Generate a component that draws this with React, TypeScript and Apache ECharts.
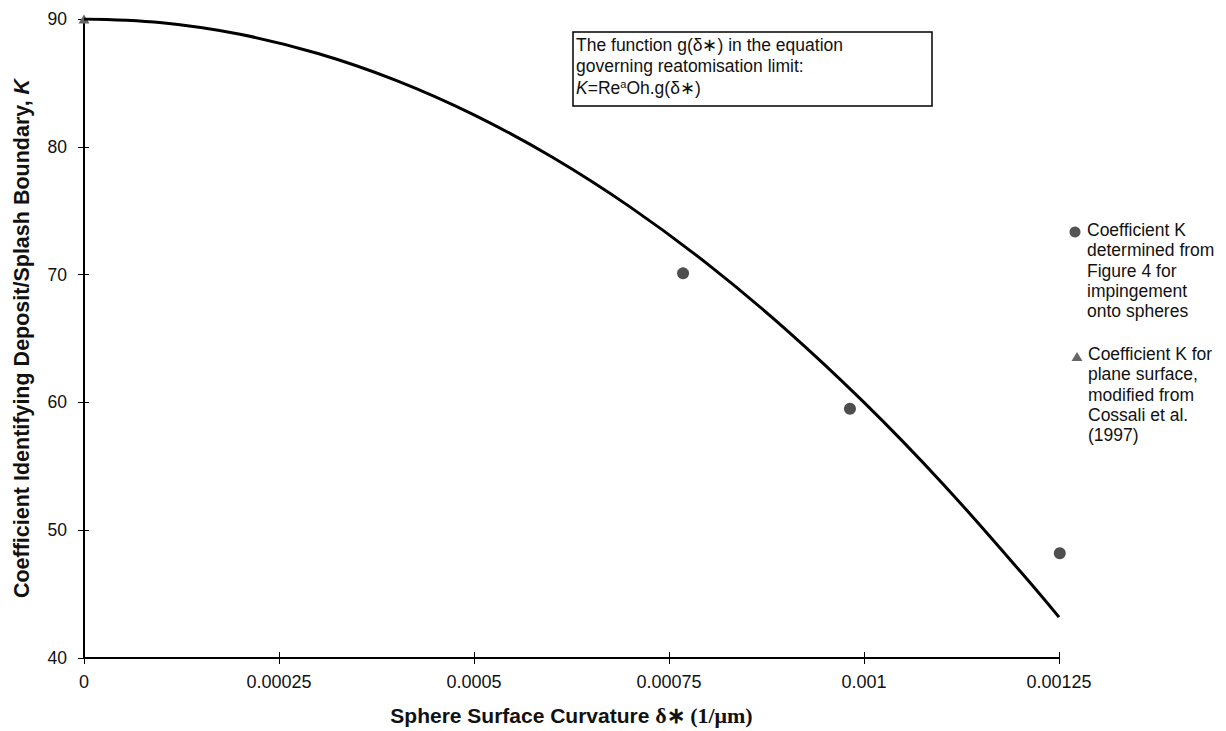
import React, { useEffect, useRef } from "react";
import * as echarts from "echarts";

// Fitted curve g(δ*): [curvature (1/µm), K]
const curveX = [0, 0.0001, 0.0002, 0.0003, 0.0004, 0.0005, 0.0006, 0.0007, 0.0008, 0.0009, 0.001, 0.0011, 0.0012, 0.00125];
const curveK = [90, 89.7, 88.8, 87.3, 85.2, 82.5, 79.2, 75.3, 70.8, 65.7, 60.0, 53.7, 46.8, 43.2];

// Coefficient K determined from Figure 4 for impingement onto spheres
const sphereCurvature = [0.000768, 0.000982, 0.001251];
const sphereK = [70.1, 59.5, 48.2];

// Coefficient K for plane surface (Cossali et al. 1997)
const planeCurvature = [0];
const planeK = [90];

const xTicks = ["0", "0.00025", "0.0005", "0.00075", "0.001", "0.00125"];
const yTicks = ["40", "50", "60", "70", "80", "90"];

const boxLines = [
  "The function g(δ∗) in the equation",
  "governing reatomisation limit:",
];
const legendSphere = ["Coefficient K", "determined from", "Figure 4 for", "impingement", "onto spheres"];
const legendPlane = ["Coefficient K for", "plane surface,", "modified from", "Cossali et al.", "(1997)"];

const FONT = "'Liberation Sans', Arial, sans-serif";
const SERIF = "'Liberation Serif', 'Times New Roman', serif";

export default function App() {
  const ref = useRef<HTMLDivElement>(null);

  useEffect(() => {
    if (!ref.current) return;
    const chart = echarts.init(ref.current, null, { renderer: "svg" });

    const fmtX = (v: number) => {
      const i = Math.round(v / 0.00025);
      return xTicks[i] ?? String(v);
    };
    const fmtY = (v: number) => {
      const i = Math.round((v - 40) / 10);
      return yTicks[i] ?? String(v);
    };

    const option: any = {
      animation: false,
      backgroundColor: "#ffffff",
      textStyle: { fontFamily: FONT },
      grid: { left: 84, right: 167, top: 19, bottom: 71, containLabel: false },
      xAxis: [
        {
          type: "value",
          min: 0,
          max: 0.00125,
          interval: 0.00025,
          axisLine: { show: true, lineStyle: { color: "#000", width: 2 } },
          axisTick: { show: true, length: 6, lineStyle: { color: "#000", width: 1 } },
          splitLine: { show: false },
          axisLabel: { formatter: fmtX, color: "#111", fontSize: 18, margin: 15, fontFamily: FONT },
          name: "{b|Sphere Surface Curvature }{s|δ∗ (1/μm)}",
          nameLocation: "middle",
          nameGap: 46,
          nameTextStyle: {
            rich: {
              b: { fontFamily: FONT, fontWeight: "bold", fontSize: 21, color: "#111" },
              s: { fontFamily: SERIF, fontWeight: "bold", fontSize: 22, color: "#111" },
            },
          },
        },
        {
          type: "value",
          min: 0,
          max: 0.00125,
          interval: 0.00025,
          position: "bottom",
          offset: 0,
          axisLine: { show: false },
          axisTick: { show: true, inside: true, length: 6, lineStyle: { color: "#000", width: 1 } },
          axisLabel: { show: false },
          splitLine: { show: false },
        },
      ],
      yAxis: [
        {
          type: "value",
          min: 40,
          max: 90,
          interval: 10,
          axisLine: { show: true, lineStyle: { color: "#000", width: 2 } },
          axisTick: { show: true, length: 6, lineStyle: { color: "#000", width: 1 } },
          splitLine: { show: false },
          axisLabel: { formatter: fmtY, color: "#111", fontSize: 17.5, margin: 17, fontFamily: FONT },
          name: "{b|Coefficient Identifying Deposit/Splash Boundary, }{i|K}",
          nameLocation: "middle",
          nameGap: 51,
          nameTextStyle: {
            rich: {
              b: { fontFamily: FONT, fontWeight: "bold", fontSize: 21.5, color: "#111" },
              i: { fontFamily: FONT, fontWeight: "bold", fontStyle: "italic", fontSize: 21.5, color: "#111" },
            },
          },
        },
        {
          type: "value",
          min: 40,
          max: 90,
          interval: 10,
          position: "left",
          offset: 0,
          axisLine: { show: false },
          axisTick: { show: true, inside: true, length: 5, lineStyle: { color: "#000", width: 1 } },
          axisLabel: { show: false },
          splitLine: { show: false },
        },
      ],
      series: [
        {
          name: "g(δ*)",
          type: "line",
          data: curveX.map((x, i) => [x, curveK[i]]),
          smooth: 0.4,
          showSymbol: false,
          symbol: "none",
          lineStyle: { color: "#000", width: 3 },
          z: 3,
        },
        {
          name: "Coefficient K determined from Figure 4 for impingement onto spheres",
          type: "scatter",
          data: sphereCurvature.map((x, i) => [x, sphereK[i]]),
          symbol: "circle",
          symbolSize: 12,
          itemStyle: { color: "#4e4e4e", opacity: 1 },
          clip: false,
          z: 4,
        },
        {
          name: "Coefficient K for plane surface, modified from Cossali et al. (1997)",
          type: "scatter",
          data: planeCurvature.map((x, i) => [x, planeK[i]]),
          symbol: "triangle",
          symbolSize: [11, 9],
          itemStyle: { color: "#666", opacity: 1 },
          clip: false,
          z: 2,
        },
      ],
      graphic: [
        {
          type: "rect",
          shape: { x: 573, y: 32, width: 359, height: 74 },
          style: { fill: "#fff", stroke: "#000", lineWidth: 1.5 },
          z: 10,
        },
        ...boxLines.map((t, i) => ({
          type: "text",
          x: 576,
          y: 36 + i * 21,
          style: { text: t, font: `17.5px ${FONT}`, fill: "#111" },
          z: 11,
        })),
        {
          type: "text",
          x: 576,
          y: 78,
          style: {
            text: "{i|K}{n|=Re}{s|a}{n|Oh.g(δ∗)}",
            rich: {
              i: { fontFamily: FONT, fontStyle: "italic", fontSize: 17.5, fill: "#111", verticalAlign: "bottom" },
              n: { fontFamily: FONT, fontSize: 17.5, fill: "#111", verticalAlign: "bottom" },
              s: { fontFamily: FONT, fontSize: 11, fill: "#111", verticalAlign: "top", padding: [0, 0, 8, 0] },
            },
          },
          z: 11,
        },
        {
          type: "circle",
          shape: { cx: 1075, cy: 232, r: 5.5 },
          style: { fill: "#555" },
        },
        ...legendSphere.map((t, i) => ({
          type: "text",
          x: 1087,
          y: 221 + i * 20.3,
          style: { text: t, font: `17.5px ${FONT}`, fill: "#111" },
        })),
        {
          type: "polygon",
          shape: { points: [[1077, 352], [1082.5, 361], [1071.5, 361]] },
          style: { fill: "#666" },
        },
        ...legendPlane.map((t, i) => ({
          type: "text",
          x: 1088,
          y: 345 + i * 20.3,
          style: { text: t, font: `17.5px ${FONT}`, fill: "#111" },
        })),
      ],
    };

    chart.setOption(option);
    return () => chart.dispose();
  }, []);

  return (
    <div
      ref={ref}
      style={{ position: "absolute", left: 0, top: 0, width: 1226, height: 731, background: "#fff" }}
    />
  );
}
